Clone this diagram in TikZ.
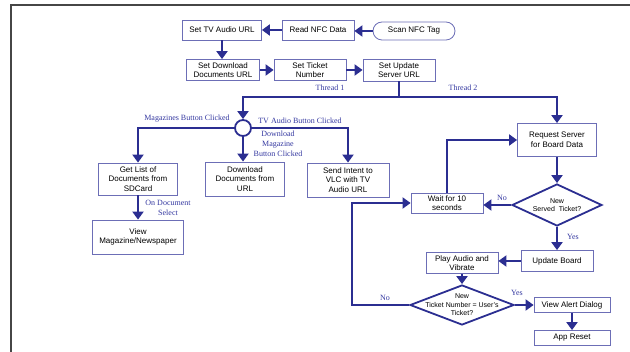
\documentclass[tikz,border=0pt]{standalone}
\usepackage{fontspec}
\setmainfont{Liberation Serif}
\setsansfont{Liberation Sans}
\usetikzlibrary{arrows.meta, shapes.geometric, positioning, calc}
\definecolor{flownavy}{RGB}{43,46,145}
\definecolor{boxlavender}{RGB}{108,110,182}
\definecolor{labelblue}{RGB}{52,56,160}
\definecolor{framegrey}{RGB}{70,70,70}

\begin{document}
\begin{tikzpicture}[x=1pt, y=-1pt,
    box/.style={draw=boxlavender, line width=0.8pt, fill=white, align=center, inner sep=1pt, font=\sffamily\fontsize{8}{9.5}\selectfont},
    decision/.style={draw=flownavy, diamond, line width=1.8pt, inner sep=0pt},
    dtext/.style={align=center, inner sep=0pt, font=\sffamily\fontsize{7}{8.5}\selectfont},
    lbl/.style={text=labelblue, align=center, inner sep=0pt, font=\fontsize{8}{10}\selectfont},
    flow/.style={draw=flownavy, line width=2.4pt, -{Triangle[width=11pt,length=8pt]}},
    trunk/.style={draw=flownavy, line width=2.4pt}]
        \useasboundingbox (0,0) rectangle (630,352);
        \draw[framegrey, line width=1.3pt] (11,352) -- (11,5) -- (630,5);

        % start of the app
        \node[box, minimum width=79pt, minimum height=20pt] (tvurl) at (222,30) {Set TV Audio URL};
        \node[box, minimum width=72pt, minimum height=20pt] (nfcdata) at (318,30) {Read NFC Data};
        \node[box, rounded corners=9pt, minimum width=82pt, minimum height=18pt] (scan) at (414,31) {Scan NFC Tag};
        \node[box, minimum width=73pt, minimum height=21pt] (docurl) at (223,70) {Set Download\\Documents URL};
        \node[box, minimum width=72pt, minimum height=21pt] (ticket) at (310,70) {Set Ticket\\Number};
        \node[box, minimum width=72pt, minimum height=22pt] (server) at (399,70) {Set Update\\Server URL};
        \coordinate (split) at (399,97);

        % thread 1
        \node[draw=flownavy, circle, line width=1.8pt, fill=white, minimum size=16pt, inner sep=0pt] (hub) at (243,128) {};
        \node[box, minimum width=79pt, minimum height=32pt] (sdlist) at (138,179) {Get List of\\Documents from\\SDCard};
        \node[box, minimum width=91pt, minimum height=34pt] (viewmag) at (138,237) {View\\Magazine/Newspaper};
        \node[box, minimum width=79pt, minimum height=34pt] (download) at (245,179) {Download\\Documents from\\URL};
        \node[box, minimum width=82pt, minimum height=34pt] (vlc) at (348,180) {Send Intent to\\VLC with TV\\Audio URL};

        % thread 2
        \node[box, minimum width=79pt, minimum height=33pt] (request) at (557,140) {Request Server\\for Board Data};
        \node[decision, minimum width=90pt, minimum height=42pt] (served) at (557,205) {};
        \node[dtext] (servedtxt) at (served) {New\\Served~~Ticket?};
        \node[box, minimum width=72pt, minimum height=20pt] (wait) at (447,203) {Wait for 10\\seconds};
        \node[box, minimum width=72pt, minimum height=21pt] (board) at (557,261) {Update Board};
        \node[box, minimum width=72pt, minimum height=21pt] (play) at (462,263) {Play Audio and\\Vibrate};
        \node[decision, minimum width=104pt, minimum height=40pt] (match) at (462,305) {};
        \node[dtext] (matchtxt) at (match) {New\\Ticket Number = User's\\Ticket?};
        \node[box, minimum width=76pt, minimum height=15pt] (alert) at (572,305) {View Alert Dialog};
        \node[box, minimum width=76pt, minimum height=15pt] (reset) at (572,338) {App Reset};
        \coordinate (loop) at (352,305);

        % labels
        \node[lbl] (t1) at (330,88) {Thread 1};
        \node[lbl] (t2) at (463,88) {Thread 2};
        \node[lbl] (magbtn) at (187,119) {Magazines Button Clicked};
        \node[lbl] (tvbtn) at (300,121) {TV Audio Button Clicked};
        \node[lbl] (dlbtn) at (278,144) {Download\\Magazine\\Button Clicked};
        \node[lbl] (docsel) at (168,208) {On Document\\Select};
        \node[lbl] (no1) at (502,198) {No};
        \node[lbl] (yes1) at (573,237) {Yes};
        \node[lbl] (no2) at (385,298) {No};
        \node[lbl] (yes2) at (517,293) {Yes};

        \draw[flow] (scan.west) -- (scan.west -| nfcdata.east);
        \draw[flow] (nfcdata) -- (tvurl);
        \draw[flow] (tvurl.south) -- (tvurl.south |- docurl.north);
        \draw[flow] (docurl) -- (ticket);
        \draw[flow] (ticket) -- (server);
        \draw[trunk] (server) -- (split);
        \draw[flow] (split) -| (hub);
        \draw[flow] (split) -| (request);

        \draw[flow] (hub.west) -| (sdlist.north);
        \draw[flow] (hub.south) -- (hub.south |- download.north);
        \draw[flow] (hub.east) -| (vlc.north);
        \draw[flow] (sdlist) -- (viewmag);

        \draw[flow] (request) -- (served.north);
        \draw[flow] (served.west) -- (served.west -| wait.east);
        \draw[flow] (wait.north) |- (request.west);
        \draw[flow] (served.south) -- (board.north);
        \draw[flow] (board.west) -- (board.west -| play.east);
        \draw[flow] (play) -- (match.north);
        \draw[flow] (match.east) -- (alert.west);
        \draw[flow] (alert) -- (reset);
        \draw[flow] (match.west) -- (loop) |- (wait.west);
\end{tikzpicture}
\end{document}
